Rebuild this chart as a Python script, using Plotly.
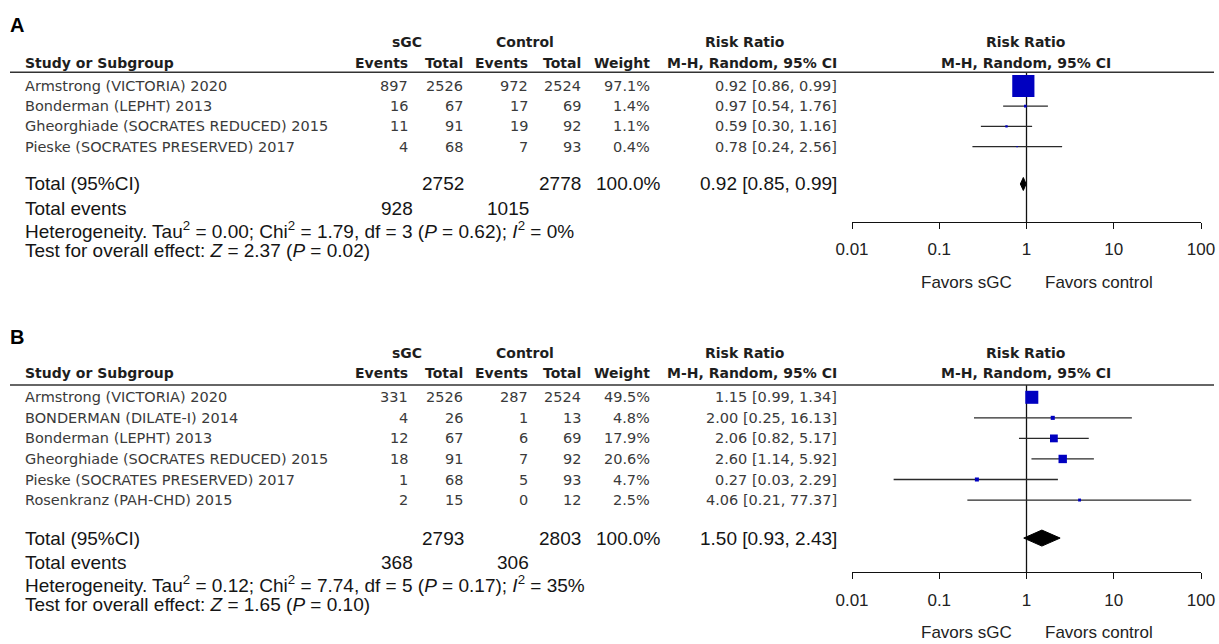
import math
import plotly.graph_objects as go

W, H = 1219, 644

# ---------------- Data: panel A ----------------
a_studies = ["Armstrong (VICTORIA) 2020", "Bonderman (LEPHT) 2013",
             "Gheorghiade (SOCRATES REDUCED) 2015", "Pieske (SOCRATES PRESERVED) 2017"]
a_ev_sgc = [897, 16, 11, 4]
a_tot_sgc = [2526, 67, 91, 68]
a_ev_ctl = [972, 17, 19, 7]
a_tot_ctl = [2524, 69, 92, 93]
a_weight = [97.1, 1.4, 1.1, 0.4]
a_rr = [0.92, 0.97, 0.59, 0.78]
a_lo = [0.86, 0.54, 0.30, 0.24]
a_hi = [0.99, 1.76, 1.16, 2.56]
a_sum_tot = [2752, 2778]
a_sum_ev = [928, 1015]
a_sum_rr = [0.92, 0.85, 0.99]
a_het = "Heterogeneity. Tau<sup>2</sup> = 0.00; Chi<sup>2</sup> = 1.79, df = 3 (<i>P</i> = 0.62); <i>I</i><sup>2</sup> = 0%"
a_test = "Test for overall effect: <i>Z</i> = 2.37 (<i>P</i> = 0.02)"

# ---------------- Data: panel B ----------------
b_studies = ["Armstrong (VICTORIA) 2020", "BONDERMAN (DILATE-I) 2014", "Bonderman (LEPHT) 2013",
             "Gheorghiade (SOCRATES REDUCED) 2015", "Pieske (SOCRATES PRESERVED) 2017",
             "Rosenkranz (PAH-CHD) 2015"]
b_ev_sgc = [331, 4, 12, 18, 1, 2]
b_tot_sgc = [2526, 26, 67, 91, 68, 15]
b_ev_ctl = [287, 1, 6, 7, 5, 0]
b_tot_ctl = [2524, 13, 69, 92, 93, 12]
b_weight = [49.5, 4.8, 17.9, 20.6, 4.7, 2.5]
b_rr = [1.15, 2.00, 2.06, 2.60, 0.27, 4.06]
b_lo = [0.99, 0.25, 0.82, 1.14, 0.03, 0.21]
b_hi = [1.34, 16.13, 5.17, 5.92, 2.29, 77.37]
b_sum_tot = [2793, 2803]
b_sum_ev = [368, 306]
b_sum_rr = [1.50, 0.93, 2.43]
b_het = "Heterogeneity. Tau<sup>2</sup> = 0.12; Chi<sup>2</sup> = 7.74, df = 5 (<i>P</i> = 0.17); <i>I</i><sup>2</sup> = 35%"
b_test = "Test for overall effect: <i>Z</i> = 1.65 (<i>P</i> = 0.10)"

tick_vals = [0.01, 0.1, 1, 10, 100]
tick_text = ["0.01", "0.1", "1", "10", "100"]

# ---------------- Styling / geometry ----------------
ROW_FONT = "DejaVu Sans"
SUM_FONT = "Liberation Sans"
ROW_COLOR = "#3a3a3a"
HEAD_COLOR = "#1e1e1e"
SUM_COLOR = "#151515"
BLUE = "#0000c0"

X_LEFT, X_RIGHT = 852, 1201      # pixel span of log axis 0.01..100
COL = dict(name=23, ev1=410, tot1=465, ev2=530, tot2=583, weight=652, ci=839,
           sgc=407, ctl=525, rr=745, plot=1026)

panels = [
    dict(letter="A", letter_y=25, head2=62.7, line=72.3, row0=86.0, pitch=20.2, axis=222.0,
         tick_standoff=5, favors=282.0, ksize=2.25,
         studies=a_studies, ev1=a_ev_sgc, tot1=a_tot_sgc, ev2=a_ev_ctl, tot2=a_tot_ctl,
         w=a_weight, rr=a_rr, lo=a_lo, hi=a_hi, sum_tot=a_sum_tot, sum_ev=a_sum_ev,
         sum_rr=a_sum_rr, het=a_het, test=a_test, dh=6.5),
    dict(letter="B", letter_y=337, head2=373.0, line=385.0, row0=397.3, pitch=20.55, axis=572.0,
         tick_standoff=6, favors=632.0, ksize=1.85,
         studies=b_studies, ev1=b_ev_sgc, tot1=b_tot_sgc, ev2=b_ev_ctl, tot2=b_tot_ctl,
         w=b_weight, rr=b_rr, lo=b_lo, hi=b_hi, sum_tot=b_sum_tot, sum_ev=b_sum_ev,
         sum_rr=b_sum_rr, het=b_het, test=b_test, dh=8.0),
]


def px(x):
    return x / W


def py(y):
    return 1 - y / H


fig = go.Figure()
annotations = []
shapes = []


def add_text(text, x, y, anchor="left", size=14.5, family=ROW_FONT, color=ROW_COLOR, bold=False):
    if bold:
        text = "<b>" + text + "</b>"
    annotations.append(dict(text=text, x=px(x), y=py(y), xref="paper", yref="paper",
                            xanchor=anchor, yanchor="middle", showarrow=False,
                            font=dict(family=family, size=size, color=color)))


for k, p in enumerate(panels):
    xa = "x" if k == 0 else "x2"
    ya = "y" if k == 0 else "y2"
    n = len(p["studies"])
    total_idx = (n - 1) + 1.85
    row_px = [p["row0"] + i * p["pitch"] for i in range(n)]
    total_px = p["row0"] + total_idx * p["pitch"]

    # axes
    ytop = (p["line"] - p["row0"]) / p["pitch"]
    ybot = (p["axis"] - p["row0"]) / p["pitch"]
    axis_kw = dict(type="log", range=[-2, 2], domain=[px(X_LEFT), px(X_RIGHT)],
                   anchor=ya, showline=True, linecolor="#111", linewidth=1.3,
                   ticks="outside", ticklen=6, tickwidth=1.3, tickcolor="#111",
                   tickvals=tick_vals, ticktext=tick_text, showgrid=False, zeroline=False,
                   tickfont=dict(family=SUM_FONT, size=17, color="#222"),
                   ticklabelstandoff=p["tick_standoff"], fixedrange=True, automargin=False)
    yaxis_kw = dict(domain=[py(p["axis"]), py(p["line"])], range=[ybot, ytop],
                    anchor=xa, visible=False, fixedrange=True, automargin=False)
    if k == 0:
        fig.update_layout(xaxis=axis_kw, yaxis=yaxis_kw)
    else:
        fig.update_layout(xaxis2=axis_kw, yaxis2=yaxis_kw)

    # vertical line of no effect
    shapes.append(dict(type="line", xref=xa, yref=ya + " domain", x0=1, x1=1, y0=0, y1=1,
                       line=dict(color="#111", width=1.3), layer="below"))

    # whiskers
    wx, wy = [], []
    for i in range(n):
        wx += [p["lo"][i], p["hi"][i], None]
        wy += [i, i, None]
    fig.add_trace(go.Scatter(x=wx, y=wy, xaxis=xa, yaxis=ya, mode="lines",
                             line=dict(color="#2a2a2a", width=1.3), hoverinfo="skip",
                             showlegend=False))
    # squares
    fig.add_trace(go.Scatter(x=p["rr"], y=list(range(n)), xaxis=xa, yaxis=ya, mode="markers",
                             marker=dict(symbol="square", color=BLUE, opacity=1,
                                         size=[p["ksize"] * math.sqrt(w) for w in p["w"]],
                                         line=dict(width=0)),
                             showlegend=False, hoverinfo="skip"))
    # diamond
    est, lo, hi = p["sum_rr"]
    dh = p["dh"] / p["pitch"]
    fig.add_trace(go.Scatter(x=[lo, est, hi, est, lo], y=[total_idx, total_idx - dh, total_idx,
                                                          total_idx + dh, total_idx],
                             xaxis=xa, yaxis=ya, mode="lines", fill="toself",
                             fillcolor="#000", line=dict(color="#000", width=1),
                             showlegend=False, hoverinfo="skip"))

    # header line
    shapes.append(dict(type="line", xref="paper", yref="paper", x0=px(10), x1=px(1214),
                       y0=py(p["line"]), y1=py(p["line"]), line=dict(color="#333", width=1.4)))

    # panel letter
    add_text(p["letter"], 8, p["letter_y"], size=20, family=SUM_FONT, color="#000", bold=True)

    # headers
    h1 = p["head2"] - 20.5
    h2 = p["head2"]
    add_text("sGC", COL["sgc"], h1, "center", 14, color=HEAD_COLOR, bold=True)
    add_text("Control", COL["ctl"], h1, "center", 14, color=HEAD_COLOR, bold=True)
    add_text("Risk Ratio", COL["rr"], h1, "center", 14, color=HEAD_COLOR, bold=True)
    add_text("Risk Ratio", COL["plot"], h1, "center", 14, color=HEAD_COLOR, bold=True)
    add_text("Study or Subgroup", COL["name"], h2, "left", 14, color=HEAD_COLOR, bold=True)
    add_text("Events", COL["ev1"], h2, "right", 14, color=HEAD_COLOR, bold=True)
    add_text("Total", COL["tot1"], h2, "right", 14, color=HEAD_COLOR, bold=True)
    add_text("Events", COL["ev2"], h2, "right", 14, color=HEAD_COLOR, bold=True)
    add_text("Total", COL["tot2"], h2, "right", 14, color=HEAD_COLOR, bold=True)
    add_text("Weight", COL["weight"], h2, "right", 14, color=HEAD_COLOR, bold=True)
    add_text("M-H, Random, 95% CI", COL["ci"], h2, "right", 14, color=HEAD_COLOR, bold=True)
    add_text("M-H, Random, 95% CI", COL["plot"], h2, "center", 14, color=HEAD_COLOR, bold=True)

    # study rows
    for i in range(n):
        y = row_px[i]
        add_text(p["studies"][i], COL["name"], y, "left")
        add_text(str(p["ev1"][i]), COL["ev1"], y, "right")
        add_text(str(p["tot1"][i]), COL["tot1"], y, "right")
        add_text(str(p["ev2"][i]), COL["ev2"], y, "right")
        add_text(str(p["tot2"][i]), COL["tot2"], y, "right")
        add_text(f"{p['w'][i]:.1f}%", COL["weight"], y, "right")
        add_text(f"{p['rr'][i]:.2f} [{p['lo'][i]:.2f}, {p['hi'][i]:.2f}]", COL["ci"], y, "right")

    # totals
    S = dict(size=19, family=SUM_FONT, color=SUM_COLOR)
    add_text("Total (95%CI)", COL["name"], total_px, "left", **S)
    add_text(str(p["sum_tot"][0]), COL["tot1"] + 1, total_px, "right", **S)
    add_text(str(p["sum_tot"][1]), COL["tot2"], total_px, "right", **S)
    add_text("100.0%", COL["weight"] + 11, total_px, "right", **S)
    add_text(f"{est:.2f} [{lo:.2f}, {hi:.2f}]", COL["ci"], total_px, "right", **S)
    add_text("Total events", COL["name"], total_px + 24.5, "left", **S)
    add_text(str(p["sum_ev"][0]), COL["ev1"] + 5, total_px + 24.5, "right", **S)
    add_text(str(p["sum_ev"][1]), COL["ev2"] + 1, total_px + 24.5, "right", **S)
    add_text(p["het"], COL["name"], total_px + 46, "left", **S)
    add_text(p["test"], COL["name"], total_px + 66.5, "left", **S)

    # favours labels
    add_text("Favors sGC", 1014, p["favors"], "right", 17, SUM_FONT, "#222")
    add_text("Favors control", 1043, p["favors"], "left", 17, SUM_FONT, "#222")

fig.update_layout(template="none", width=W, height=H, autosize=False,
                  margin=dict(l=0, r=0, t=0, b=0, pad=0),
                  paper_bgcolor="white", plot_bgcolor="rgba(0,0,0,0)",
                  showlegend=False, annotations=annotations, shapes=shapes)

fig.write_html("out.html", config=dict(displayModeBar=False, responsive=False),
               post_script="document.body.style.margin='0';document.body.style.padding='0';"
                           "document.documentElement.style.overflow='hidden';")
